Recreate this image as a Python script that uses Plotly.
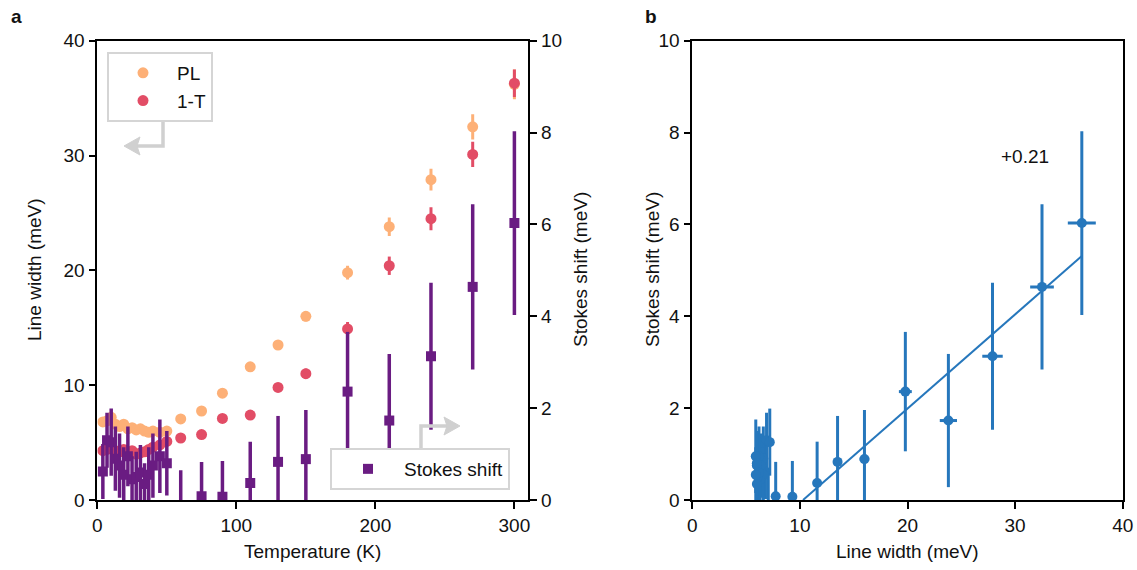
import numpy as np
import plotly.graph_objects as go

# ---------------- data ----------------
temperature = [4, 7, 10, 13, 16, 19, 22, 25, 28, 31, 34, 37, 40, 45, 50,
               60, 75, 90, 110, 130, 150, 180, 210, 240, 270, 300]
pl_width = [6.8, 6.9, 7.2, 6.6, 6.4, 6.6, 6.2, 6.3, 6.1, 6.2, 6.0, 5.9, 6.0, 5.9, 6.0,
            7.06, 7.75, 9.3, 11.6, 13.5, 16.0, 19.8, 23.8, 27.9, 32.5, 36.2]
pl_err = [0.3, 0.3, 0.3, 0.3, 0.3, 0.3, 0.3, 0.3, 0.3, 0.3, 0.3, 0.3, 0.3, 0.3, 0.3,
          0.3, 0.3, 0.35, 0.35, 0.4, 0.45, 0.6, 0.8, 0.95, 1.1, 1.3]
t_width = [4.3, 4.4, 4.5, 4.3, 4.2, 4.4, 4.1, 4.3, 4.0, 4.1, 4.2, 4.4, 4.6, 4.8, 5.1,
           5.4, 5.7, 7.1, 7.4, 9.8, 11.0, 14.9, 20.4, 24.5, 30.1, 36.3]
t_err = [0.3, 0.3, 0.3, 0.3, 0.3, 0.3, 0.3, 0.3, 0.3, 0.3, 0.3, 0.3, 0.3, 0.3, 0.3,
         0.3, 0.3, 0.3, 0.35, 0.4, 0.45, 0.6, 0.8, 1.0, 1.1, 1.2]
stokes = [0.62, 1.3, 1.26, 0.9, 0.75, 0.55, 0.95, 0.45, 0.5, 0.6, 0.35, 0.55, 0.75, 0.95, 0.8,
          -0.15, 0.08, 0.07, 0.37, 0.83, 0.89, 2.36, 1.73, 3.13, 4.64, 6.03]
stokes_err = [0.6, 0.6, 0.73, 0.7, 0.7, 0.6, 0.65, 0.5, 0.55, 0.6, 0.45, 0.6, 0.7, 0.8, 0.7,
              0.8, 0.75, 0.78, 0.9, 1.0, 1.07, 1.3, 1.45, 1.6, 1.8, 2.0]

fit_slope = 0.205
fit_intercept = -2.11
fit_label = "+0.21"

# ---------------- style ----------------
C_PL = "#fdb077"
C_T = "#e24d66"
C_S = "#6a1c82"
C_B = "#2677bc"
FONT = "Liberation Sans"
FS = 19
W, H = 1137, 570

def px(x):
    return x / W

def py(y):
    return 1 - y / H

dom_left = [px(97.3), px(528.3)]
dom_right = [px(692.3), px(1122.7)]
dom_y = [py(500), py(40.7)]

fig = go.Figure()

fig.add_trace(go.Scatter(
    x=temperature, y=pl_width, mode="markers", name="PL",
    marker=dict(color=C_PL, size=11, symbol="circle"),
    error_y=dict(type="data", array=pl_err, thickness=3, width=0, color=C_PL),
    xaxis="x", yaxis="y", legend="legend", legendgroup="pl"))
fig.add_trace(go.Scatter(
    x=temperature, y=t_width, mode="markers", name="1-T",
    marker=dict(color=C_T, size=11, symbol="circle"),
    error_y=dict(type="data", array=t_err, thickness=3, width=0, color=C_T),
    xaxis="x", yaxis="y", legend="legend", legendgroup="t"))
fig.add_trace(go.Scatter(
    x=temperature, y=stokes, mode="markers", name="Stokes shift",
    marker=dict(color=C_S, size=10, symbol="square"),
    error_y=dict(type="data", array=stokes_err, thickness=3.5, width=0, color=C_S),
    xaxis="x", yaxis="y2", legend="legend2"))

# right panel
x_fit = np.linspace(-fit_intercept / fit_slope, max(pl_width), 50)
y_fit = fit_slope * x_fit + fit_intercept
fig.add_trace(go.Scatter(
    x=x_fit, y=y_fit, mode="lines", line=dict(color=C_B, width=2),
    showlegend=False, xaxis="x3", yaxis="y3"))
fig.add_trace(go.Scatter(
    x=pl_width, y=stokes, mode="markers",
    marker=dict(color=C_B, size=10, symbol="circle"),
    error_y=dict(type="data", array=stokes_err, thickness=3, width=0, color=C_B),
    error_x=dict(type="data", array=pl_err, thickness=3, width=0, color=C_B),
    showlegend=False, xaxis="x3", yaxis="y3"))

axis_common = dict(showgrid=False, zeroline=False, showline=True, linecolor="black",
                   linewidth=1.6, ticks="outside", ticklen=7, tickwidth=1.5,
                   tickcolor="black", automargin=False,
                   tickfont=dict(family=FONT, size=FS, color="#111"))

fig.update_layout(
    width=W, height=H, margin=dict(l=0, r=0, t=0, b=0, pad=0, autoexpand=False),
    plot_bgcolor="white", paper_bgcolor="white",
    font=dict(family=FONT, size=FS, color="#111"),
    xaxis=dict(domain=dom_left, range=[0, 310], dtick=100, tick0=0, mirror=True,
               anchor="y", **axis_common),
    yaxis=dict(domain=dom_y, range=[0, 40], dtick=10, tick0=0, anchor="x", **axis_common),
    yaxis2=dict(range=[0, 10], dtick=2, tick0=0, overlaying="y", side="right",
                anchor="x", **axis_common),
    xaxis3=dict(domain=dom_right, range=[0, 40], dtick=10, tick0=0, mirror=True,
                anchor="y3", **axis_common),
    yaxis3=dict(domain=dom_y, range=[0, 10], dtick=2, tick0=0, mirror=True,
                anchor="x3", **axis_common),
    legend=dict(x=px(107), y=py(52), xanchor="left", yanchor="top",
                bgcolor="white", bordercolor="#d5d5d5", borderwidth=2,
                font=dict(family=FONT, size=FS, color="#111"),
                traceorder="grouped", tracegroupgap=0, itemwidth=58),
    legend2=dict(x=px(330), y=py(490), xanchor="left", yanchor="bottom",
                 bgcolor="white", bordercolor="#d5d5d5", borderwidth=2,
                 font=dict(family=FONT, size=FS, color="#111"), itemwidth=62),
    showlegend=True,
)

# axis titles and panel letters
ann = [
    dict(text="Temperature (K)", x=(dom_left[0] + dom_left[1]) / 2, y=py(551)),
    dict(text="Line width (meV)", x=(dom_right[0] + dom_right[1]) / 2, y=py(551)),
    dict(text="Line width (meV)", x=px(35), y=py(270), textangle=-90),
    dict(text="Stokes shift (meV)", x=px(581), y=py(270), textangle=-90),
    dict(text="Stokes shift (meV)", x=px(653), y=py(270), textangle=-90),
    dict(text="<b>a</b>", x=px(16), y=py(17)),
    dict(text="<b>b</b>", x=px(651), y=py(17)),
]
for a in ann:
    fig.add_annotation(xref="paper", yref="paper", showarrow=False,
                       xanchor="center", yanchor="middle",
                       font=dict(family=FONT, size=FS, color="#111"), **a)

fig.add_annotation(xref="x3", yref="y3", x=30.9, y=7.47, text=fit_label, showarrow=False,
                   font=dict(family=FONT, size=FS, color="#111"))

# bent gray arrows linking legends to axes
GRAY = "#d0d0d0"
def poly(points):
    return "M " + " L ".join(f"{px(a):.5f},{py(b):.5f}" for a, b in points)

fig.add_shape(type="path", xref="paper", yref="paper",
              path=poly([(163, 120), (163, 146), (136, 146)]),
              line=dict(color=GRAY, width=3.5))
fig.add_shape(type="path", xref="paper", yref="paper",
              path=poly([(124, 146), (140, 137), (137, 146), (140, 155)]) + " Z",
              line=dict(color=GRAY, width=1), fillcolor=GRAY)
fig.add_shape(type="path", xref="paper", yref="paper",
              path=poly([(421, 448), (421, 426), (447, 426)]),
              line=dict(color=GRAY, width=3.5))
fig.add_shape(type="path", xref="paper", yref="paper",
              path=poly([(460, 426), (444, 417), (447, 426), (444, 435)]) + " Z",
              line=dict(color=GRAY, width=1), fillcolor=GRAY)

fig.write_html("out.html", config={"displayModeBar": False},
               post_script="document.body.style.margin='0px';document.body.style.overflow='hidden';")
